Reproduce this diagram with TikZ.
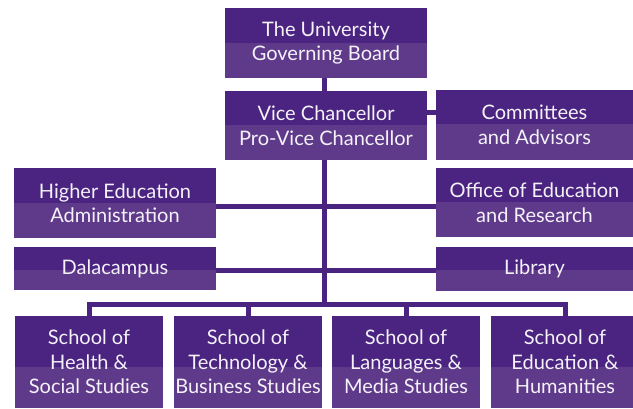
\documentclass[tikz,border=0pt]{standalone}
\usepackage{fontspec}
\setmainfont{Lato}
\usetikzlibrary{backgrounds}
\definecolor{pdark}{RGB}{74,36,128}
\definecolor{plight}{RGB}{95,58,139}
\definecolor{ptext}{RGB}{244,242,248}
\tikzset{
  box/.style={fill=pdark, text=ptext, align=center, inner sep=0pt,
    font=\fontsize{20}{24.5}\selectfont,
    path picture={\fill[plight] ([yshift=#1]path picture bounding box.south west) rectangle (path picture bounding box.south east);}},
  link/.style={draw=pdark, line width=5pt, line cap=rect}
}
\begin{document}
\begin{tikzpicture}[x=1pt,y=-1pt]
\useasboundingbox (0,0) rectangle (633,409);
\clip (0,0) rectangle (633,409);
\node[box=35pt, minimum width=202pt, minimum height=70pt] (board) at (326,43) {The University\\Governing Board};
\node[box=35pt, minimum width=202pt, minimum height=69pt] (vc) at (326,125.5) {Vice Chancellor\\Pro-Vice Chancellor};
\node[box=36pt, minimum width=197pt, minimum height=70pt] (comm) at (534.5,125) {Committees\\and Advisors};
\node[box=35pt, minimum width=202pt, minimum height=70pt] (higher) at (115,203) {Higher Education\\Administration};
\node[box=35pt, minimum width=197pt, minimum height=69pt] (office) at (534.5,202.5) {Office of Education\\and Research};
\node[box=20pt, minimum width=202pt, minimum height=43pt] (dala) at (115,268.5) {Dalacampus};
\node[box=21pt, minimum width=197pt, minimum height=44pt] (lib) at (534.5,269) {Library};
\node[box=41pt, minimum width=148pt, minimum height=92pt] (s1) at (89,362) {School of\\Health \&\\Social Studies};
\node[box=41pt, minimum width=148pt, minimum height=92pt] (s2) at (248,362) {School of\\Technology \&\\Business Studies};
\node[box=41pt, minimum width=148pt, minimum height=92pt] (s3) at (406,362) {School of\\Languages \&\\Media Studies};
\node[box=41pt, minimum width=148pt, minimum height=92pt] (s4) at (565,362) {School of\\Education \&\\Humanities};
\coordinate (bus) at (324.5,305);
\begin{scope}[on background layer]
\draw[link] (board.south -| bus) -- (bus);
\draw[link] ([yshift=13pt]vc.east) -- ([yshift=12.5pt]comm.west);
\draw[link] ([yshift=-4pt]higher.east) -- ([yshift=-4.5pt]office.west);
\draw[link] ([yshift=-2.5pt]dala.east) -- ([yshift=-2pt]lib.west);
\draw[link] (s1.north |- bus) -- (s4.north |- bus);
\draw[link] (s1.north) -- (s1.north |- bus);
\draw[link] (s2.north) -- (s2.north |- bus);
\draw[link] (s3.north) -- (s3.north |- bus);
\draw[link] (s4.north) -- (s4.north |- bus);
\end{scope}
\end{tikzpicture}
\end{document}
